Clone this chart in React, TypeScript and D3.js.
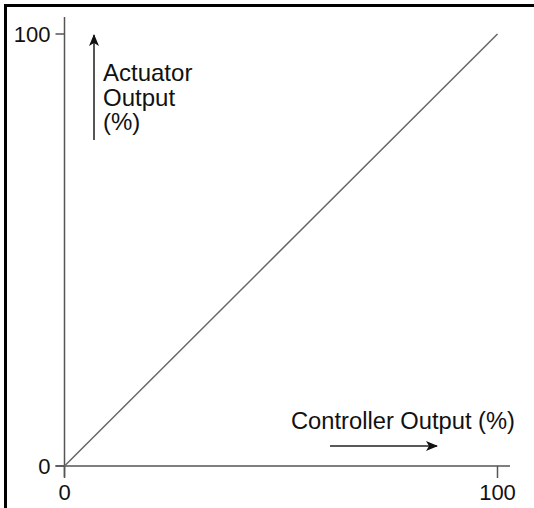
import React from "react";
import * as d3 from "d3";

const xDomain = [0, 100];
const yDomain = [0, 100];
const xTicks = [0, 100];
const yTicks = [0, 100];
const linePoints: [number, number][] = [
  [0, 0],
  [100, 100],
];
const yLabelLines = ["Actuator", "Output", "(%)"];
const xLabel = "Controller Output (%)";

const W = 534;
const H = 508;

export default function App() {
  const x = d3.scaleLinear().domain(xDomain).range([64.5, 497.5]);
  const y = d3.scaleLinear().domain(yDomain).range([466, 34]);
  const line = d3
    .line<[number, number]>()
    .x((d) => x(d[0]))
    .y((d) => y(d[1]));
  const font = "'Liberation Sans', Arial, sans-serif";
  const axisColor = "#555";
  return (
    <svg
      width={W}
      height={H}
      style={{ position: "absolute", left: 0, top: 0, background: "#fff" }}
      fontFamily={font}
    >
      <defs>
        <marker
          id="ah"
          viewBox="0 0 12 10"
          refX="11"
          refY="5"
          markerWidth="12"
          markerHeight="10"
          markerUnits="userSpaceOnUse"
          orient="auto"
        >
          <path d="M0,0 L12,5 L0,10 L3,5 Z" fill="#111" />
        </marker>
      </defs>
      {/* frame */}
      <line x1={4} y1={5.5} x2={W} y2={5.5} stroke="#000" strokeWidth={3} />
      <line x1={5.5} y1={4} x2={5.5} y2={H} stroke="#000" strokeWidth={3} />

      {/* axes */}
      <line x1={x(0)} y1={y(0) + 11} x2={x(0)} y2={17} stroke={axisColor} strokeWidth={1.5} />
      <line x1={x(0) - 9} y1={y(0)} x2={510} y2={y(0)} stroke={axisColor} strokeWidth={1.5} />

      {/* ticks */}
      {yTicks.map((t) => (
        <g key={"y" + t}>
          <line x1={x(0) - 9} x2={x(0)} y1={y(t)} y2={y(t)} stroke={axisColor} strokeWidth={1.5} />
          <text x={x(0) - 14} y={y(t)} dy="0.35em" textAnchor="end" fontSize={22} fill="#111">
            {t}
          </text>
        </g>
      ))}
      {xTicks.map((t) => (
        <g key={"x" + t}>
          <line x1={x(t)} x2={x(t)} y1={y(0)} y2={y(0) + 12} stroke={axisColor} strokeWidth={1.5} />
          <text x={x(t)} y={y(0) + 26} dy="0.35em" textAnchor="middle" fontSize={22} fill="#111">
            {t}
          </text>
        </g>
      ))}

      {/* diagonal */}
      <path d={line(linePoints) || ""} fill="none" stroke="#666" strokeWidth={1.5} />

      {/* y annotation */}
      <line x1={94} y1={140} x2={94} y2={35} stroke="#555" strokeWidth={2} markerEnd="url(#ah)" />
      {yLabelLines.map((s, i) => (
        <text key={s} x={103} y={81 + i * 24.5} fontSize={24} fill="#111">
          {s}
        </text>
      ))}

      {/* x annotation */}
      <text x={291} y={429} fontSize={23} fill="#111" textLength={224} lengthAdjust="spacingAndGlyphs">
        {xLabel}
      </text>
      <line x1={330} y1={446} x2={437} y2={446} stroke="#222" strokeWidth={1.5} markerEnd="url(#ah)" />
    </svg>
  );
}
